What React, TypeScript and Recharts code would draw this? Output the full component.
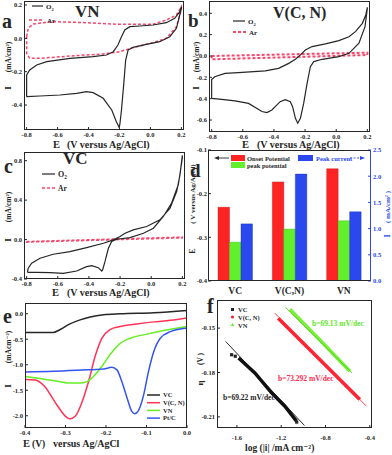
import React from 'react';
import { LineChart, Line, XAxis, YAxis, BarChart, Bar } from 'recharts';

const serif = '"Liberation Serif", "DejaVu Serif", serif';
const ink = '#262626';
const arRed = '#f5476b';
const red = '#ff2424';
const green = '#62f02c';
const blue = '#2a48ee';

// a: VN cyclic voltammograms, [E, I]
const vnO2 = [
  [-0.8, -0.35], [-0.8, -0.22], [-0.78, -0.19], [-0.735, -0.16], [-0.67, -0.14], [-0.52, -0.12],
  [-0.37, -0.11], [-0.284, -0.1], [-0.24, -0.08], [-0.21, -0.04], [-0.187, 0.01], [-0.166, 0.05],
  [-0.133, 0.07], [-0.069, 0.074], [0.017, 0.08], [0.103, 0.094], [0.157, 0.12], [0.19, 0.16], [0.2, 0.19],
  [0.2, 0.18], [0.168, 0.06], [0.125, 0.01], [0.06, -0.02], [-0.026, -0.036], [-0.112, -0.054],
  [-0.144, -0.07], [-0.16, -0.13], [-0.172, -0.27], [-0.187, -0.43], [-0.198, -0.52], [-0.202, -0.534],
  [-0.22, -0.5], [-0.25, -0.43], [-0.305, -0.36], [-0.37, -0.326], [-0.413, -0.32], [-0.477, -0.33],
  [-0.585, -0.34], [-0.714, -0.346], [-0.8, -0.35],
];
const vnAr = [
  [-0.8, 0.01], [-0.79, 0.06], [-0.757, 0.086], [-0.63, 0.1], [-0.413, 0.094], [-0.198, 0.084],
  [0.017, 0.084], [0.103, 0.11], [0.168, 0.14], [0.2, 0.19], [0.2, 0.174], [0.168, 0.07], [0.103, 0.0],
  [0.017, -0.026], [-0.09, -0.05], [-0.198, -0.08], [-0.305, -0.094], [-0.52, -0.106], [-0.714, -0.12],
  [-0.78, -0.12], [-0.8, -0.09], [-0.8, 0.01],
];

// b: V(C,N)
const vcnO2 = [
  [-0.8, -0.397], [-0.8, -0.22], [-0.78, -0.194], [-0.714, -0.163], [-0.628, -0.156], [-0.456, -0.14],
  [-0.37, -0.116], [-0.305, -0.069], [-0.262, -0.031], [-0.23, 0.01], [-0.198, 0.056], [-0.155, 0.088],
  [-0.069, 0.113], [0.017, 0.144], [0.082, 0.18], [0.125, 0.23], [0.168, 0.306], [0.19, 0.384], [0.2, 0.456],
  [0.2, 0.447], [0.185, 0.275], [0.146, 0.119], [0.082, 0.025], [0.017, -0.006], [-0.09, -0.031],
  [-0.144, -0.053], [-0.166, -0.1], [-0.187, -0.256], [-0.209, -0.444], [-0.23, -0.584], [-0.247, -0.63],
  [-0.262, -0.584], [-0.28, -0.475], [-0.295, -0.428], [-0.327, -0.41], [-0.36, -0.428], [-0.413, -0.506],
  [-0.445, -0.53], [-0.477, -0.52], [-0.563, -0.444], [-0.65, -0.42], [-0.735, -0.406], [-0.8, -0.397],
];
const vcnAr = [[-0.8, 0.0], [0.2, 0.031], [0.2, 0.009], [-0.8, -0.031], [-0.8, 0.0]];

// c: VC
const vcO2 = [
  [-0.795, -0.332], [-0.79, -0.29], [-0.768, -0.24], [-0.714, -0.19], [-0.629, -0.149], [-0.522, -0.122],
  [-0.415, -0.081], [-0.307, -0.037], [-0.243, -0.003], [-0.2, 0.03], [-0.168, 0.064], [-0.115, 0.098],
  [-0.029, 0.132], [0.056, 0.2], [0.121, 0.319], [0.164, 0.49], [0.185, 0.658], [0.2, 0.854],
  [0.2, 0.827], [0.174, 0.556], [0.131, 0.37], [0.078, 0.234], [0.014, 0.115], [-0.05, 0.064],
  [-0.136, 0.02], [-0.222, 0.003], [-0.254, -0.02], [-0.275, -0.088], [-0.297, -0.224], [-0.312, -0.308],
  [-0.318, -0.319], [-0.34, -0.285], [-0.382, -0.264], [-0.415, -0.275], [-0.479, -0.319], [-0.564, -0.342],
  [-0.65, -0.336], [-0.736, -0.332], [-0.795, -0.332],
];
const vcAr = [[-0.8, -0.02], [0.2, 0.025], [0.2, 0.017], [-0.8, -0.026], [-0.8, -0.02]];

// d: summary bars
const dCats = ['VC', 'V(C,N)', 'VN'];
const onsetPot = [-0.231, -0.173, -0.143];
const peakPot = [-0.311, -0.281, -0.262];
const peakCur = [1.09, 2.04, 1.32];

// e: LSV
const eVC = [[-0.4, -0.366], [-0.33, -0.366], [-0.313, -0.31], [-0.289, -0.2], [-0.264, -0.12], [-0.239, -0.065], [-0.206, -0.02], [-0.165, 0.0], [-0.082, 0.02], [0, 0.065]];
const eVCN = [[-0.4, -1.29], [-0.375, -1.3], [-0.352, -1.42], [-0.322, -1.78], [-0.297, -2.03], [-0.289, -2.06], [-0.276, -2.01], [-0.26, -1.75], [-0.243, -1.33], [-0.227, -0.84], [-0.21, -0.48], [-0.19, -0.31], [-0.165, -0.25], [-0.124, -0.2], [-0.082, -0.16], [-0.041, -0.13], [0, -0.085]];
const eVN = [[-0.4, -1.23], [-0.363, -1.27], [-0.33, -1.31], [-0.289, -1.36], [-0.264, -1.36], [-0.247, -1.33], [-0.231, -1.23], [-0.21, -1.03], [-0.19, -0.8], [-0.165, -0.58], [-0.14, -0.48], [-0.099, -0.4], [-0.058, -0.33], [0, -0.25]];
const ePt = [[-0.4, -1.14], [-0.33, -1.13], [-0.247, -1.1], [-0.206, -1.085], [-0.186, -1.05], [-0.173, -1.1], [-0.161, -1.33], [-0.148, -1.65], [-0.136, -1.92], [-0.129, -1.96], [-0.12, -1.9], [-0.107, -1.59], [-0.095, -1.13], [-0.082, -0.74], [-0.066, -0.48], [-0.041, -0.35], [0, -0.28]];

// f: Tafel
const fVCfit = [[-1.702, -0.159], [-0.99, -0.2158]];
const fVCband = [[-1.585, -0.1702], [-1.438, -0.1803], [-1.287, -0.1938], [-1.167, -0.2028], [-1.062, -0.2129]];
const fVCpts = [[-1.648, -0.168], [-1.615, -0.169], [-1.06, -0.2135]];
const fVCNfit = [[-1.257, -0.1399], [-0.43, -0.2028]];
const fVCNband = [[-1.227, -0.1433], [-0.866, -0.1702], [-0.49, -0.1983]];
const fVNfit = [[-1.161, -0.136], [-0.56, -0.1803]];
const fVNband = [[-1.122, -0.1372], [-0.85, -0.158], [-0.58, -0.1792]];

const cvTicksX = [-0.8, -0.6, -0.4, -0.2, 0, 0.2];

const pts = (arr: number[][]) => arr.map(([x, y]) => ({ x, y }));
const f1 = (v: number) => v.toFixed(1);
const f2 = (v: number) => v.toFixed(2);
const tickStyle = { fontSize: 6.5, fontWeight: 700, fontFamily: serif, fill: ink };

type Box = { x: number; y: number; w: number; h: number };
const boxA: Box = { x: 24, y: 1, w: 160, h: 129 };
const boxB: Box = { x: 209, y: 1, w: 161, h: 131 };
const boxC: Box = { x: 24, y: 152, w: 161, h: 127 };
const boxD: Box = { x: 208, y: 150, w: 163, h: 131 };
const boxE: Box = { x: 25, y: 303, w: 162, h: 125 };
const boxF: Box = { x: 217, y: 300, w: 155, h: 128 };

// extra room around each plot so edge tick labels are not clipped
const MT = 6, MR = 8;
const pad = { top: MT, right: MR, bottom: 0, left: 0 };

function CvPanel({ box, yDomain, yTicks, o2, ar, arW }: any) {
  const YW = 24, XH = 16;
  return (
    <div style={{ position: 'absolute', left: box.x - YW, top: box.y - MT }}>
      <LineChart width={box.w + YW + MR} height={box.h + XH + MT} margin={pad}>
        <XAxis type="number" dataKey="x" domain={[-0.817, 0.217]} allowDataOverflow ticks={cvTicksX} interval={0}
          tickFormatter={f1} tick={tickStyle} tickSize={-3} tickMargin={5} axisLine={false} tickLine={{ stroke: ink }} height={XH} />
        <YAxis type="number" domain={yDomain} allowDataOverflow ticks={yTicks} interval={0}
          tickFormatter={f1} tick={tickStyle} tickSize={-3} tickMargin={5} axisLine={false} tickLine={{ stroke: ink }} width={YW} />
        <Line data={pts(ar)} dataKey="y" type="linear" stroke={arRed} strokeWidth={arW} strokeDasharray="3 2" dot={false} isAnimationActive={false} />
        <Line data={pts(o2)} dataKey="y" type="linear" stroke={ink} strokeWidth={1.2} dot={false} isAnimationActive={false} />
      </LineChart>
    </div>
  );
}

function BarPanel() {
  const YW = 14, XH = 16;
  const data = dCats.map((name, i) => ({ name, onset: onsetPot[i], peak: peakPot[i], cur: peakCur[i] }));
  return (
    <div style={{ position: 'absolute', left: boxD.x - YW, top: boxD.y - MT }}>
      <BarChart width={boxD.w + 2 * YW} height={boxD.h + XH + MT} data={data} margin={{ top: MT, right: 0, bottom: 0, left: 0 }} barSize={11.5} barGap={0}>
        <XAxis dataKey="name" tick={{ ...tickStyle, fontSize: 9.5 }} tickLine={false} tickSize={0} tickMargin={6} axisLine={false} height={XH} interval={0} />
        <YAxis yAxisId="l" type="number" domain={[-0.4, -0.1]} allowDataOverflow ticks={[-0.4, -0.3, -0.2, -0.1]} interval={0}
          tickFormatter={f1} tick={tickStyle} tickSize={-3} tickMargin={4} axisLine={false} tickLine={{ stroke: ink }} width={YW} />
        <YAxis yAxisId="r" orientation="right" type="number" domain={[0, 2.5]} allowDataOverflow ticks={[0, 0.5, 1, 1.5, 2, 2.5]} interval={0}
          tickFormatter={f1} tick={{ ...tickStyle, fill: blue }} tickSize={-3} tickMargin={5} axisLine={false} tickLine={{ stroke: blue }} width={YW} />
        <Bar yAxisId="l" dataKey={(d: any) => [-0.4, d.onset]} fill={red} stroke="#c01010" strokeWidth={0.4} isAnimationActive={false} />
        <Bar yAxisId="l" dataKey={(d: any) => [-0.4, d.peak]} fill={green} stroke="#40b020" strokeWidth={0.4} isAnimationActive={false} />
        <Bar yAxisId="r" dataKey="cur" fill={blue} stroke="#1830b0" strokeWidth={0.4} isAnimationActive={false} />
      </BarChart>
    </div>
  );
}

function LsvPanel() {
  const YW = 22, XH = 14;
  const series = [[eVC, ink], [eVCN, '#ff3355'], [eVN, '#66ee22'], [ePt, '#3355ee']] as const;
  return (
    <div style={{ position: 'absolute', left: boxE.x - YW, top: boxE.y - MT }}>
      <LineChart width={boxE.w + YW + MR} height={boxE.h + XH + MT} margin={pad}>
        <XAxis type="number" dataKey="x" domain={[-0.4, 0]} allowDataOverflow ticks={[-0.4, -0.3, -0.2, -0.1, 0]} interval={0}
          tickFormatter={f1} tick={tickStyle} tickSize={-3} tickMargin={5} axisLine={false} tickLine={{ stroke: ink }} height={XH} />
        <YAxis type="number" domain={[-2.24, 0.21]} allowDataOverflow ticks={[-2, -1.5, -1, -0.5, 0]} interval={0}
          tickFormatter={f1} tick={tickStyle} tickSize={-3} tickMargin={5} axisLine={false} tickLine={{ stroke: ink }} width={YW} />
        {series.map(([d, c], i) => (
          <Line key={i} data={pts(d as any)} dataKey="y" type="monotone" stroke={c as string} strokeWidth={1.5} dot={false} isAnimationActive={false} />
        ))}
      </LineChart>
    </div>
  );
}

const squareDot = (p: any) => (
  <rect key={p.index} x={p.cx - 1.6} y={p.cy - 1.6} width={3.2} height={3.2} fill={ink} />
);

function TafelPanel() {
  const YW = 20, XH = 18;
  return (
    <div style={{ position: 'absolute', left: boxF.x - YW, top: boxF.y - MT }}>
      <LineChart width={boxF.w + YW + MR} height={boxF.h + XH + MT} margin={pad}>
        <XAxis type="number" dataKey="x" domain={[-1.78, -0.38]} allowDataOverflow ticks={[-1.6, -1.2, -0.8, -0.4]} interval={0}
          tickFormatter={f1} tick={tickStyle} tickSize={-3} tickMargin={10} axisLine={false} tickLine={{ stroke: ink }} height={XH} />
        <YAxis type="number" domain={[-0.2175, -0.131]} allowDataOverflow ticks={[-0.21, -0.18, -0.15]} interval={0}
          tickFormatter={f2} tick={tickStyle} tickSize={-3} tickMargin={5} axisLine={false} tickLine={{ stroke: ink }} width={YW} />
        <Line data={pts(fVNband)} dataKey="y" type="linear" stroke="#7af03a" strokeWidth={3.5} dot={false} isAnimationActive={false} />
        <Line data={pts(fVNfit)} dataKey="y" type="linear" stroke="#50d020" strokeWidth={0.9} dot={false} isAnimationActive={false} />
        <Line data={pts(fVCNband)} dataKey="y" type="linear" stroke="#ff2030" strokeWidth={3.5} dot={false} isAnimationActive={false} />
        <Line data={pts(fVCNfit)} dataKey="y" type="linear" stroke="#ff3040" strokeWidth={0.9} dot={false} isAnimationActive={false} />
        <Line data={pts(fVCband)} dataKey="y" type="linear" stroke="#111" strokeWidth={3.5} dot={false} isAnimationActive={false} />
        <Line data={pts(fVCfit)} dataKey="y" type="linear" stroke="#111" strokeWidth={0.9} dot={false} isAnimationActive={false} />
        <Line data={pts(fVCpts)} dataKey="y" type="linear" stroke="none" dot={squareDot} isAnimationActive={false} />
      </LineChart>
    </div>
  );
}

const T = ({ x, y, s, c = ink, a = 'start', children }: any) => (
  <text x={x} y={y} fontSize={s} fill={c} textAnchor={a}>{children}</text>
);
const R = ({ x, y, s, c = ink, children }: any) => (
  <text x={x} y={y} fontSize={s} fill={c} textAnchor="middle" transform={`rotate(-90 ${x} ${y})`}>{children}</text>
);
const Frame = ({ b }: { b: Box }) => (
  <rect x={b.x + 0.5} y={b.y + 0.5} width={b.w - 1} height={b.h - 1} fill="none" stroke={ink} strokeWidth={1} />
);
const O2 = ({ x, y, s }: any) => (
  <text x={x} y={y} fontSize={s} fill={ink}>O<tspan fontSize={s * 0.65} dy={s * 0.25}>2</tspan></text>
);

function Overlay() {
  return (
    <svg width={392} height={455} style={{ position: 'absolute', left: 0, top: 0, pointerEvents: 'none' }}
      fontFamily={serif} fontWeight={700}>
      <Frame b={boxA} /><Frame b={boxB} /><Frame b={boxC} /><Frame b={boxE} /><Frame b={boxF} />
      <path d={`M${boxD.x + 0.5} ${boxD.y} V${boxD.y + boxD.h - 0.5} H${boxD.x + boxD.w}`} fill="none" stroke={ink} />
      <path d={`M${boxD.x} ${boxD.y + 0.5} H${boxD.x + boxD.w - 0.5}`} fill="none" stroke={ink} />
      <path d={`M${boxD.x + boxD.w - 0.5} ${boxD.y} V${boxD.y + boxD.h}`} fill="none" stroke={blue} />

      {/* panel letters */}
      <T x={2} y={28} s={20}>a</T>
      <T x={188} y={27} s={19}>b</T>
      <T x={4} y={173} s={20}>c</T>
      <T x={190} y={177} s={19}>d</T>
      <T x={3} y={323} s={20}>e</T>
      <T x={207} y={313} s={20}>f</T>

      {/* a */}
      <T x={75} y={17} s={17}>VN</T>
      <line x1={32} y1={6} x2={43} y2={6} stroke={ink} strokeWidth={1.2} />
      <O2 x={46} y={9} s={7} />
      <line x1={29} y1={20} x2={44} y2={20} stroke={arRed} strokeWidth={1.5} strokeDasharray="3 2" />
      <T x={47} y={23} s={7}>Ar</T>
      <R x={11} y={57} s={7.5}>(mA/cm²)</R>
      <R x={11} y={88} s={9}>I</R>
      <T x={53} y={148} s={10.5}>E</T>
      <T x={67} y={148} s={10}>(V versus Ag/AgCl)</T>

      {/* b */}
      <T x={273} y={18} s={16}>V(C, N)</T>
      <line x1={233} y1={21} x2={245} y2={21} stroke={ink} strokeWidth={1.2} />
      <O2 x={248} y={24} s={7} />
      <line x1={233} y1={32} x2={246} y2={32} stroke={arRed} strokeWidth={2} strokeDasharray="3 2" />
      <T x={249} y={35} s={7}>Ar</T>
      <R x={199} y={57} s={7.5}>(mA/cm²)</R>
      <R x={199} y={88} s={9}>I</R>
      <T x={242} y={148} s={10.5}>E</T>
      <T x={257} y={148} s={10}>(V versus Ag/AgCl)</T>

      {/* c */}
      <T x={63} y={164} s={17}>VC</T>
      <line x1={42} y1={174} x2={55} y2={174} stroke={ink} strokeWidth={1.2} />
      <O2 x={58} y={177} s={8} />
      <line x1={42} y1={188} x2={55} y2={188} stroke={arRed} strokeWidth={1.5} strokeDasharray="3 2" />
      <T x={58} y={191} s={7.5}>Ar</T>
      <R x={11} y={207} s={7.5}>(mA/cm²)</R>
      <R x={11} y={240} s={9}>I</R>
      <T x={52} y={296} s={10.5}>E</T>
      <T x={67} y={296} s={10}>(V versus Ag/AgCl)</T>

      {/* d */}
      <line x1={216} y1={158} x2={229} y2={158} stroke={ink} strokeWidth={0.9} />
      <polygon points="214,158 219,156 219,160" fill={ink} />
      <rect x={231} y={155} width={14} height={6} fill={red} />
      <T x={247} y={161} s={6.5}>Onset Potential</T>
      <rect x={298} y={155} width={15} height={6} fill={blue} />
      <T x={316} y={161} s={6.5} c={blue}>Peak current</T>
      <line x1={350} y1={158} x2={361} y2={158} stroke={blue} strokeWidth={0.9} strokeDasharray="2 1.5" />
      <polygon points="365,158 360,156 360,160" fill={blue} />
      <rect x={231} y={162} width={14} height={6} fill={green} />
      <T x={247} y={168} s={6.5}>peak potential</T>
      <R x={195} y={194} s={7}>( V versus Ag/AgCl)</R>
      <R x={195} y={251} s={8}>E</R>
      <R x={390} y={207} s={7} c={blue}>( mA/cm² )</R>
      <R x={390} y={236} s={8} c={blue}>I</R>

      {/* e */}
      {[['VC', ink], ['V(C, N)', '#ff3355'], ['VN', '#66ee22'], ['Pt/C', '#3355ee']].map(([n, c], i) => (
        <g key={n}>
          <line x1={147} y1={395 + i * 7.7} x2={160} y2={395 + i * 7.7} stroke={c} strokeWidth={1.5} />
          <T x={163} y={397.3 + i * 7.7} s={6.5}>{n}</T>
        </g>
      ))}
      <R x={11} y={347} s={7.5}>(mAcm⁻²)</R>
      <R x={11} y={386} s={9}>I</R>
      <T x={23} y={447} s={10.5}>E</T>
      <T x={32} y={447} s={9.5}>(V)</T>
      <T x={53} y={447} s={10}>versus Ag/AgCl</T>

      {/* f */}
      <rect x={231} y={308} width={3} height={3} fill={ink} />
      <T x={238} y={311.5} s={6.5}>VC</T>
      <circle cx={232.5} cy={317} r={1.6} fill="#ff2030" />
      <T x={238} y={319.5} s={6.5}>V(C, N)</T>
      <polygon points="232.5,323 230.7,326 234.3,326" fill="#62f02c" />
      <T x={238} y={327.5} s={6.5}>VN</T>
      <T x={312} y={326} s={7.5} c="#62e82a">b=69.13 mV/dec</T>
      <T x={278} y={381} s={7.5} c="#ff2a50">b=73.292 mV/dec</T>
      <T x={223} y={400} s={7.5}>b=69.22 mV/dec</T>
      <R x={203} y={359} s={7.5}>(V )</R>
      <R x={203} y={383} s={9}>η</R>
      <T x={245} y={451} s={9.5}>log (|i|  /mA cm⁻²)</T>
    </svg>
  );
}

export default function App() {
  return (
    <div style={{ position: 'absolute', left: 0, top: 0, width: 392, height: 455, background: '#fff', fontFamily: serif }}>
      <CvPanel box={boxA} yDomain={[-0.55, 0.224]} yTicks={[-0.4, -0.2, 0, 0.2]} o2={vnO2} ar={vnAr} arW={1.5} />
      <CvPanel box={boxB} yDomain={[-0.712, 0.515]} yTicks={[-0.6, -0.4, -0.2, 0, 0.2, 0.4]} o2={vcnO2} ar={vcnAr} arW={2} />
      <CvPanel box={boxC} yDomain={[-0.4, 0.888]} yTicks={[-0.4, 0, 0.4, 0.8]} o2={vcO2} ar={vcAr} arW={1.5} />
      <BarPanel />
      <LsvPanel />
      <TafelPanel />
      <Overlay />
    </div>
  );
}
